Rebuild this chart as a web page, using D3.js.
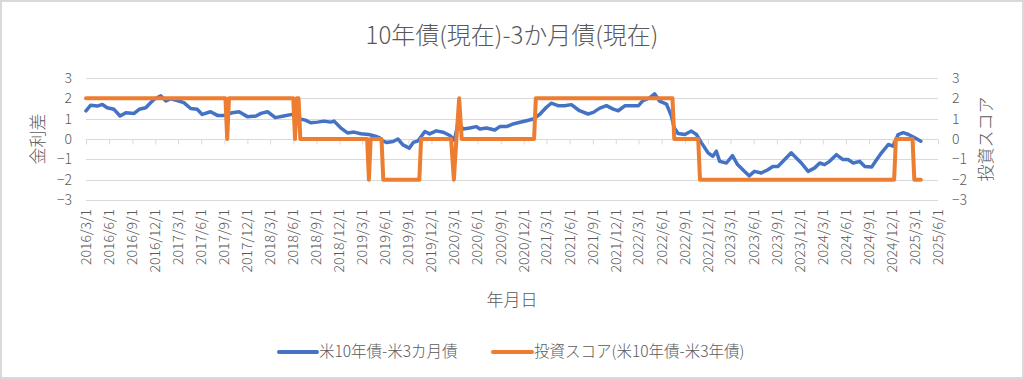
<!DOCTYPE html>
<html><head><meta charset="utf-8">
<script src="https://cdn.jsdelivr.net/npm/d3@7"></script>
<style>html,body{margin:0;padding:0;background:#fff;}svg{display:block;}text{font-family:"Noto Sans CJK JP","Noto Sans",sans-serif;fill:#595959;font-weight:300;}</style>
</head><body>
<svg id="c" width="1024" height="379"></svg>
<script>
const chartTitle = "10年債(現在)-3か月債(現在)";
const xTitle = "年月日";
const yLeftTitle = "金利差";
const yRightTitle = "投資スコア";
const seriesNames = ["米10年債-米3カ月債", "投資スコア(米10年債-米3年債)"];
const yTicks = [-3, -2, -1, 0, 1, 2, 3];
const xTickLabels = ["2016/3/1","2016/6/1","2016/9/1","2016/12/1","2017/3/1","2017/6/1","2017/9/1","2017/12/1","2018/3/1","2018/6/1","2018/9/1","2018/12/1","2019/3/1","2019/6/1","2019/9/1","2019/12/1","2020/3/1","2020/6/1","2020/9/1","2020/12/1","2021/3/1","2021/6/1","2021/9/1","2021/12/1","2022/3/1","2022/6/1","2022/9/1","2022/12/1","2023/3/1","2023/6/1","2023/9/1","2023/12/1","2024/3/1","2024/6/1","2024/9/1","2024/12/1","2025/3/1","2025/6/1"];

const spreadDates = ["2016-03-01","2016-03-19","2016-04-15","2016-05-05","2016-05-24","2016-06-20","2016-07-14","2016-08-06","2016-09-08","2016-09-28","2016-10-24","2016-11-13","2016-11-27","2016-12-23","2017-01-12","2017-02-01","2017-03-04","2017-03-24","2017-04-20","2017-05-16","2017-06-05","2017-07-08","2017-08-04","2017-08-31","2017-10-02","2017-10-29","2017-12-01","2018-01-04","2018-01-24","2018-02-19","2018-03-22","2018-04-24","2018-05-27","2018-06-23","2018-07-19","2018-08-09","2018-09-05","2018-10-01","2018-10-27","2018-11-10","2018-12-06","2019-01-02","2019-01-28","2019-02-24","2019-03-27","2019-04-23","2019-05-10","2019-05-20","2019-06-06","2019-07-02","2019-07-21","2019-08-10","2019-09-04","2019-09-20","2019-10-09","2019-11-05","2019-11-24","2019-12-20","2020-01-17","2020-02-12","2020-03-01","2020-03-16","2020-04-05","2020-05-01","2020-05-27","2020-06-10","2020-07-06","2020-08-08","2020-08-28","2020-09-24","2020-10-20","2020-11-16","2020-12-12","2021-01-08","2021-02-04","2021-03-01","2021-03-20","2021-04-16","2021-05-12","2021-06-08","2021-07-10","2021-08-13","2021-09-03","2021-09-29","2021-10-25","2021-11-21","2021-12-11","2022-01-07","2022-02-09","2022-03-01","2022-03-19","2022-04-15","2022-05-04","2022-05-24","2022-06-20","2022-07-09","2022-07-21","2022-08-05","2022-09-01","2022-09-27","2022-10-17","2022-11-06","2022-12-02","2022-12-21","2023-01-04","2023-01-17","2023-02-13","2023-03-09","2023-03-29","2023-04-25","2023-05-14","2023-06-04","2023-07-01","2023-07-27","2023-08-16","2023-09-05","2023-10-02","2023-10-28","2023-11-17","2023-12-07","2024-01-03","2024-01-29","2024-02-18","2024-03-08","2024-03-28","2024-04-24","2024-05-20","2024-06-09","2024-06-30","2024-07-25","2024-08-15","2024-09-11","2024-10-01","2024-10-20","2024-11-16","2024-12-05","2024-12-25","2025-01-14","2025-02-04","2025-03-01","2025-03-25"];
const spreadValues = [1.38,1.66,1.62,1.70,1.54,1.46,1.13,1.29,1.26,1.46,1.54,1.79,1.96,2.12,1.87,1.98,1.87,1.79,1.50,1.46,1.21,1.34,1.16,1.16,1.29,1.34,1.10,1.13,1.26,1.34,1.05,1.13,1.21,1.00,0.93,0.80,0.83,0.88,0.83,0.88,0.55,0.30,0.34,0.26,0.22,0.14,0.06,-0.09,-0.17,-0.12,0.00,-0.29,-0.45,-0.17,-0.09,0.37,0.25,0.40,0.33,0.17,-0.05,0.80,0.49,0.54,0.61,0.49,0.54,0.44,0.61,0.61,0.74,0.82,0.90,0.98,1.23,1.56,1.76,1.64,1.64,1.69,1.39,1.23,1.31,1.52,1.64,1.47,1.39,1.64,1.64,1.64,1.89,2.02,2.22,1.86,1.72,1.15,0.55,0.27,0.22,0.39,0.22,-0.19,-0.68,-0.85,-0.60,-1.10,-1.18,-0.82,-1.26,-1.59,-1.81,-1.59,-1.67,-1.51,-1.35,-1.35,-1.01,-0.68,-0.93,-1.18,-1.59,-1.42,-1.18,-1.26,-1.10,-0.77,-1.01,-1.01,-1.18,-1.10,-1.35,-1.38,-1.01,-0.68,-0.27,-0.35,0.22,0.31,0.22,0.06,-0.11];

const scoreDates = ["2016-03-01","2017-09-05","2017-09-12","2017-09-19","2018-06-01","2018-06-08","2018-06-15","2018-06-22","2018-06-29","2019-03-21","2019-03-28","2019-04-04","2019-05-17","2019-05-24","2019-10-14","2019-10-21","2020-02-17","2020-02-28","2020-03-09","2020-03-20","2020-03-30","2021-01-11","2021-01-18","2022-07-14","2022-07-21","2022-10-24","2022-10-31","2024-12-09","2024-12-16","2025-02-20","2025-02-27","2025-03-25"];
const scoreValues = [2,2,0,2,2,0,2,2,0,0,-2,0,0,-2,-2,0,0,-2,0,2,0,0,2,2,0,0,-2,-2,0,0,-2,-2];

const parse = d3.timeParse("%Y-%m-%d");
const parseTick = d3.timeParse("%Y/%m/%d");
const svg = d3.select("#c");
const W = 1024, H = 379;
const L = 86, R = 938, T = 78, B = 200;

svg.append("rect").attr("x",1).attr("y",1).attr("width",W-2).attr("height",H-2)
  .attr("fill","#fff").attr("stroke","#d9d9d9").attr("stroke-width",2);

const tickDates = xTickLabels.map(parseTick);
const x = d3.scaleTime().domain([tickDates[0], tickDates[tickDates.length-1]]).range([L, R]);
const yL = d3.scaleLinear().domain([-3,3]).range([B, T]);
const yR = d3.scaleLinear().domain([-3,3]).range([B, T]);

svg.append("g").selectAll("line").data(yTicks).join("line")
  .attr("x1",L).attr("x2",R).attr("y1",d=>Math.round(yL(d))+0.5).attr("y2",d=>Math.round(yL(d))+0.5)
  .attr("stroke","#d9d9d9").attr("stroke-width",1);

const xAxis = d3.axisBottom(x).tickValues(tickDates).tickSize(5).tickFormat("");
const gx = svg.append("g").attr("transform",`translate(0,${Math.round(yL(0))+0.5})`).call(xAxis);
gx.selectAll("path,line").attr("stroke","#d9d9d9");
gx.select(".domain").attr("d",`M${L},0H${R}`);

svg.append("g").selectAll("text").data(tickDates).join("text")
  .attr("transform",d=>`translate(${x(d)},209) rotate(-90)`)
  .attr("text-anchor","end").attr("dy","0.35em")
  .style("font-size","14px")
  .text((d,i)=>xTickLabels[i]);

const gyl = svg.append("g").attr("transform",`translate(${L},0)`)
  .call(d3.axisLeft(yL).tickValues(yTicks).tickSize(0).tickPadding(14).tickFormat(d3.format("d")));
gyl.select(".domain").remove();
gyl.selectAll("text").style("font-size","14px").style("font-family","'Noto Sans CJK JP',sans-serif").style("font-weight","300").attr("fill","#595959");

const gyr = svg.append("g").attr("transform",`translate(${R},0)`)
  .call(d3.axisRight(yR).tickValues(yTicks).tickSize(0).tickPadding(14).tickFormat(d3.format("d")));
gyr.select(".domain").remove();
gyr.selectAll("text").style("font-size","14px").style("font-family","'Noto Sans CJK JP',sans-serif").style("font-weight","300").attr("fill","#595959");

const spread = spreadDates.map((d,i)=>({d:parse(d), v:spreadValues[i]}));
const score = scoreDates.map((d,i)=>({d:parse(d), v:scoreValues[i]}));
svg.append("path").datum(spread)
  .attr("fill","none").attr("stroke","#4472C4").attr("stroke-width",3.5)
  .attr("stroke-linejoin","round").attr("stroke-linecap","round")
  .attr("d", d3.line().x(p=>x(p.d)).y(p=>yL(p.v)));
svg.append("path").datum(score)
  .attr("fill","none").attr("stroke","#ED7D31").attr("stroke-width",4)
  .attr("stroke-linejoin","round").attr("stroke-linecap","round")
  .attr("d", d3.line().x(p=>x(p.d)).y(p=>yR(p.v)));

svg.append("text").attr("x",512).attr("y",44).attr("text-anchor","middle")
  .style("font-size","24px").text(chartTitle);
svg.append("text").attr("transform",`translate(38,${(T+B)/2}) rotate(-90)`).attr("text-anchor","middle")
  .attr("dy","0.35em").style("font-size","17px").text(yLeftTitle);
svg.append("text").attr("transform",`translate(986,${(T+B)/2}) rotate(-90)`).attr("text-anchor","middle")
  .attr("dy","0.35em").style("font-size","17px").text(yRightTitle);
svg.append("text").attr("x",512).attr("y",300).attr("text-anchor","middle")
  .attr("dy","0.35em").style("font-size","17px").text(xTitle);

const legY = 352;
const leg = [{x1:279,x2:317,tx:319,c:"#4472C4"},{x1:493,x2:532,tx:534,c:"#ED7D31"}];
leg.forEach((l,i)=>{
  svg.append("line").attr("x1",l.x1).attr("x2",l.x2).attr("y1",legY).attr("y2",legY)
    .attr("stroke",l.c).attr("stroke-width",4).attr("stroke-linecap","round");
  svg.append("text").attr("x",l.tx).attr("y",legY).attr("dy","0.35em")
    .style("font-size","15.5px").text(seriesNames[i]);
});
</script>
</body></html>
